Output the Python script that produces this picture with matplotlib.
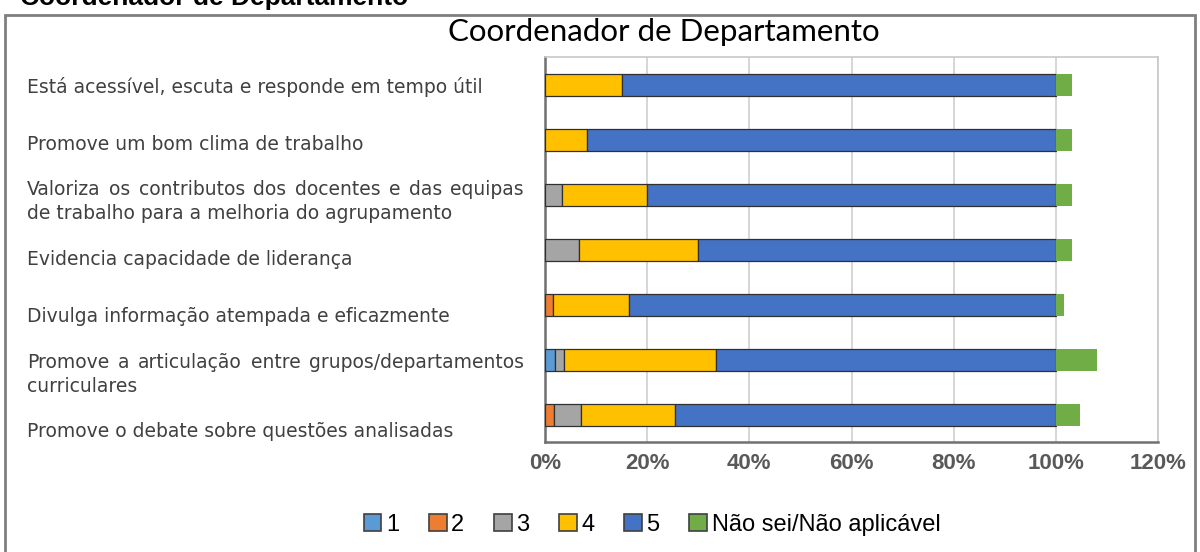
import numpy as np
import matplotlib
matplotlib.use("Agg")
import matplotlib.pyplot as plt
from matplotlib.patches import Patch, Rectangle
from matplotlib.transforms import IdentityTransform

# ---------------- data ----------------
categories = [
    "Está acessível, escuta e responde em tempo útil",
    "Promove um bom clima de trabalho",
    "Valoriza os contributos dos docentes e das equipas\nde trabalho para a melhoria do agrupamento",
    "Evidencia capacidade de liderança",
    "Divulga informação atempada e eficazmente",
    "Promove a articulação entre grupos/departamentos\ncurriculares",
    "Promove o debate sobre questões analisadas",
]
series_names = ["1", "2", "3", "4", "5", "Não sei/Não aplicável"]
s1 = [0.0, 0.0, 0.0, 0.0, 0.0, 1.9, 0.0]
s2 = [0.0, 0.0, 0.0, 0.0, 1.6, 0.0, 1.8]
s3 = [0.0, 0.0, 3.4, 6.7, 0.0, 1.8, 5.2]
s4 = [15.0, 8.2, 16.6, 23.2, 14.8, 29.7, 18.4]
s5 = [85.0, 91.8, 80.0, 70.1, 83.6, 66.6, 74.6]
s_ns = [3.2, 3.2, 3.2, 3.2, 1.6, 8.1, 4.8]
xticks = [0, 20, 40, 60, 80, 100, 120]
xticklabels = ["0%", "20%", "40%", "60%", "80%", "100%", "120%"]
title_outer = "Coordenador de Departamento"
title_inner = "Coordenador de Departamento"

colors = ["#5B9BD5", "#ED7D31", "#A5A5A5", "#FFC000", "#4472C4", "#70AD47"]

W, H = 1200, 552
fig = plt.figure(figsize=(W / 100, H / 100), dpi=100)
fig.patch.set_facecolor("white")

ax = fig.add_axes([545 / W, 1 - 442 / H, 613 / W, 385 / H])

y = np.arange(len(categories))
all_series = [s1, s2, s3, s4, s5, s_ns]
left = np.zeros(len(categories))
for k, (vals, c) in enumerate(zip(all_series, colors)):
    vals = np.asarray(vals, dtype=float)
    m = vals > 0
    if k < 5:
        ax.barh(y[m], vals[m], left=left[m], height=0.4, color=c,
                edgecolor="#303030", linewidth=0.9, zorder=3)
    else:
        ax.barh(y[m], vals[m], left=left[m], height=0.4, color=c,
                edgecolor="none", linewidth=0, zorder=3)
    left = left + vals

ax.set_xlim(0, 120)
ax.set_ylim(len(categories) - 0.5, -0.5)
ax.set_xticks(xticks)
ax.set_xticklabels(xticklabels, fontsize=16, fontweight="bold",
                   color="#595959", family="Liberation Sans")
ax.set_yticks([])
ax.tick_params(axis="x", length=0, pad=8)
ax.xaxis.grid(True, color="#D0D0D0", linewidth=1.2, zorder=0)
ax.set_axisbelow(True)
for sp in ["top", "right"]:
    ax.spines[sp].set_color("#C8C8C8")
    ax.spines[sp].set_linewidth(1.2)
for sp in ["left", "bottom"]:
    ax.spines[sp].set_color("#707070")
    ax.spines[sp].set_linewidth(1.8)

# outer frame
fig.patches.append(Rectangle((5 / W, -0.05), 1190 / W, 1.05 - 15 / H,
                             transform=fig.transFigure, fill=False,
                             edgecolor="#7F7F7F", linewidth=2))

# titles
fig.text(20 / W, 1 - 4.5 / H, title_outer, ha="left", va="baseline",
         fontsize=19, fontweight="bold", family="Liberation Sans", color="black")
fig.text(664 / W, 1 - 32 / H, title_inner, ha="center", va="center",
         fontsize=22.5, family="Lato", color="black")

# legend
handles = [Patch(facecolor=c, edgecolor="#404040", linewidth=1.2) for c in colors]
fig.legend(handles, series_names, loc="center", bbox_to_anchor=(652 / W, 1 - 525 / H),
           ncol=6, frameon=False, prop={"family": "Liberation Sans", "size": 17},
           handlelength=0.75, handleheight=0.75, handletextpad=0.2,
           columnspacing=1.25, borderaxespad=0)

# category labels (justified lines, like the original)
fig.canvas.draw()
r = fig.canvas.get_renderer()
lab_kw = dict(fontsize=13.5, family="DejaVu Sans", color="#404040",
              va="center", ha="left", transform=IdentityTransform())
x0, x1 = 27, 524
line_gap = 24
for i, lab in enumerate(categories):
    _, ydisp = ax.transData.transform((0, i))
    ycen = ydisp - (2 + 2.5 * i)
    lines = lab.split("\n")
    n = len(lines)
    for j, line in enumerate(lines):
        yl = ycen + (n - 1) / 2 * line_gap - j * line_gap
        if j < n - 1:
            words = line.split(" ")
            ts = [fig.text(0, yl, w, **lab_kw) for w in words]
            widths = [t.get_window_extent(r).width for t in ts]
            gap = (x1 - x0 - sum(widths)) / (len(words) - 1)
            xx = x0
            for t, wd in zip(ts, widths):
                t.set_x(xx)
                xx += wd + gap
        else:
            fig.text(x0, yl, line, **lab_kw)

fig.savefig("out.png", dpi=100, facecolor="white")
